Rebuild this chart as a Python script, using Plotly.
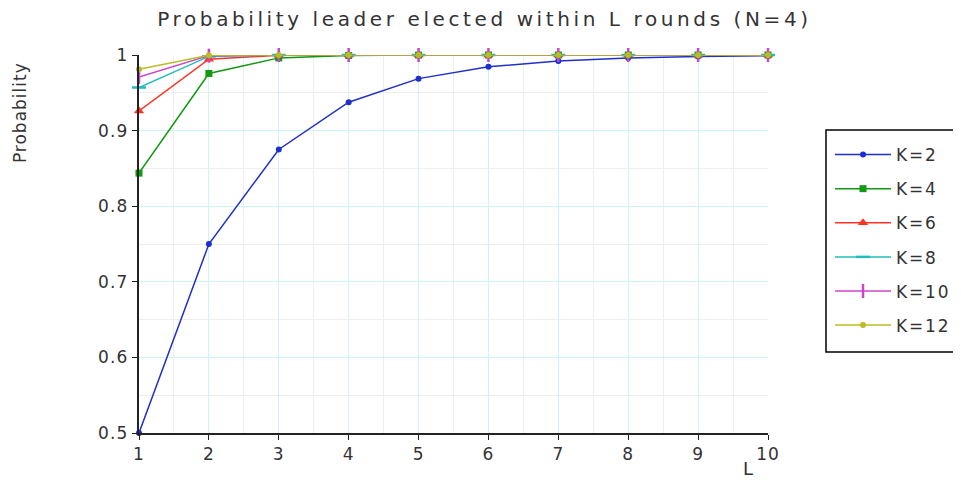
import plotly.graph_objects as go

L = [1, 2, 3, 4, 5, 6, 7, 8, 9, 10]
k2 = [0.5, 0.75, 0.875, 0.9375, 0.96875, 0.984375, 0.9921875, 0.99609, 0.99805, 0.99902]
k4 = [0.84375, 0.97559, 0.99619, 0.99940, 0.99991, 0.99999, 1.0, 1.0, 1.0, 1.0]
k6 = [0.9259, 0.99451, 0.99959, 0.99997, 1.0, 1.0, 1.0, 1.0, 1.0, 1.0]
k8 = [0.957, 0.99815, 0.99992, 1.0, 1.0, 1.0, 1.0, 1.0, 1.0, 1.0]
k10 = [0.971, 0.99916, 0.99998, 1.0, 1.0, 1.0, 1.0, 1.0, 1.0, 1.0]
k12 = [0.981, 0.99964, 0.99999, 1.0, 1.0, 1.0, 1.0, 1.0, 1.0, 1.0]

names = ["K=2", "K=4", "K=6", "K=8", "K=10", "K=12"]
series = [k2, k4, k6, k8, k10, k12]
x_tick_vals = [1, 2, 3, 4, 5, 6, 7, 8, 9, 10]
x_tick_text = ["1", "2", "3", "4", "5", "6", "7", "8", "9", "10"]
y_tick_vals = [0.5, 0.6, 0.7, 0.8, 0.9, 1.0]
y_tick_text = ["0.5", "0.6", "0.7", "0.8", "0.9", "1"]

colors = ["#1f2fcc", "#119911", "#ff3322", "#22bbbb", "#cc44cc", "#bbbb22"]
symbols = ["circle", "square", "triangle-up", "line-ew", "line-ns", "circle"]
sizes = [6, 7, 9, 10, 10, 6]

FONT = "DejaVu Sans"
TXT = "#333333"


def sp(t, ls):
    return '<span style="letter-spacing:%spx">%s</span>' % (ls, t)


fig = go.Figure()
for n, s, c, sym, sz in zip(names, series, colors, symbols, sizes):
    fig.add_trace(go.Scatter(
        x=L, y=s, name=sp(n, 1.8), mode="lines+markers", legendgroup=n,
        line=dict(color=c, width=1.5),
        marker=dict(symbol=sym, size=sz, color=c,
                    line=dict(color=c, width=2.5 if sym.startswith("line") else 0)),
        cliponaxis=False,
    ))

fig.update_layout(
    width=953, height=479,
    margin=dict(l=131, r=193, t=47, b=54, autoexpand=False),
    plot_bgcolor="white", paper_bgcolor="white",
    font=dict(family=FONT, color=TXT, size=17),
    title=dict(text=sp("Probability leader elected within L rounds (N=4)", 3.6), x=0.5, xanchor="center",
               y=0.977, yanchor="middle", font=dict(size=20, family=FONT, color=TXT)),
    legend=dict(x=1.0986, xanchor="left", y=0.783, yanchor="top",
                borderwidth=0, bgcolor="rgba(0,0,0,0)",
                font=dict(size=17, family=FONT, color=TXT), itemwidth=56,
                tracegroupgap=9),
    showlegend=True,
)
fig.add_shape(type="rect", xref="paper", yref="paper", x0=1.0922, x1=1.31, y0=0.2143, y1=0.8016,
              line=dict(color="black", width=1.5), fillcolor="rgba(0,0,0,0)", layer="below")
fig.update_xaxes(range=[1, 10], tickvals=x_tick_vals, ticktext=[sp(t, 1) for t in x_tick_text],
                 showline=True, linecolor="#222222", linewidth=2,
                 ticks="outside", ticklen=5, tickcolor="#222222", showgrid=True, gridcolor="#cdf3fb",
                 zeroline=False, tickfont=dict(size=17),
                 minor=dict(dtick=0.5, tick0=1, showgrid=True, gridcolor="#eeeeee", ticks=""))
fig.update_yaxes(range=[0.5, 1], tickvals=y_tick_vals, ticktext=[sp(t, 1.2) for t in y_tick_text],
                 showline=True, linecolor="#222222", linewidth=2,
                 ticks="outside", ticklen=5, tickcolor="#222222", showgrid=True, gridcolor="#cdf3fb",
                 zeroline=False, tickfont=dict(size=17),
                 minor=dict(dtick=0.05, tick0=0.5, showgrid=True, gridcolor="#eeeeee", ticks=""))

fig.add_annotation(text=sp("Probability", 1), xref="paper", yref="paper", x=-0.189, y=0.8466,
                   xanchor="center", yanchor="middle",
                   textangle=-90, showarrow=False, font=dict(size=17, family=FONT, color=TXT))
fig.add_annotation(text="L", xref="paper", yref="paper", x=0.968, y=-0.0926,
                   xanchor="center", yanchor="middle",
                   showarrow=False, font=dict(size=18, family=FONT, color=TXT))

fig.write_html("out.html")
